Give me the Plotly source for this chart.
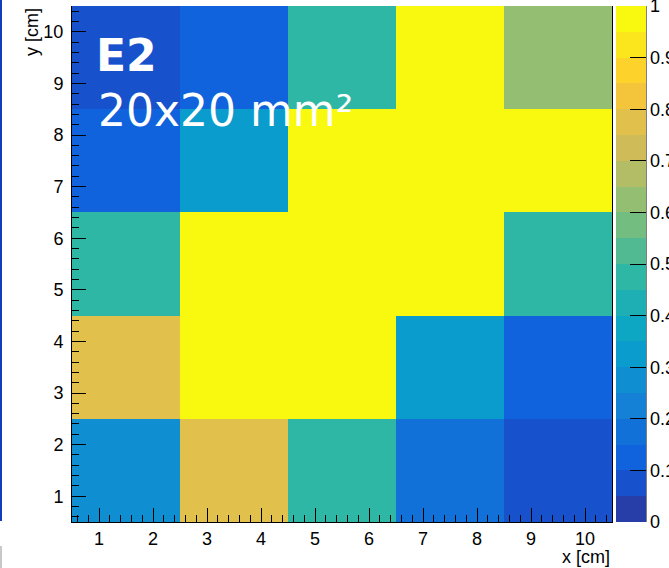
import plotly.graph_objects as go

# Bin centres (cm) of the 5x5 map and the per-bin response
x_centers = [1.5, 3.5, 5.5, 7.5, 9.5]
y_centers = [1.5, 3.5, 5.5, 7.5, 9.5]
z_rows = [
    [0.28, 0.78, 0.48, 0.18, 0.08],   # y = 1.5
    [0.78, 1.00, 1.00, 0.33, 0.13],   # y = 3.5
    [0.48, 1.00, 1.00, 1.00, 0.48],   # y = 5.5
    [0.13, 0.33, 1.00, 1.00, 1.00],   # y = 7.5
    [0.08, 0.13, 0.48, 1.00, 0.63],   # y = 9.5
]
tick_values = [1, 2, 3, 4, 5, 6, 7, 8, 9, 10]
cbar_ticks = [0, 0.1, 0.2, 0.3, 0.4, 0.5, 0.6, 0.7, 0.8, 0.9, 1.0]
cbar_text = ["0", "0.1", "0.2", "0.3", "0.4", "0.5", "0.6", "0.7", "0.8", "0.9", "1"]

# "Bird" gradient stops, sampled into 20 flat contour bands
stops = [0.0, 0.125, 0.25, 0.375, 0.5, 0.625, 0.75, 0.875, 1.0]
red = [0.2082, 0.0592, 0.0780, 0.0232, 0.1802, 0.5301, 0.8186, 0.9956, 0.9764]
green = [0.1664, 0.3599, 0.5041, 0.6419, 0.7178, 0.7492, 0.7328, 0.7862, 0.9832]
blue = [0.5293, 0.8684, 0.8385, 0.7914, 0.6425, 0.4662, 0.3499, 0.1968, 0.0539]


def bird(f):
    for k in range(1, len(stops)):
        if f <= stops[k]:
            t = (f - stops[k - 1]) / (stops[k] - stops[k - 1])
            c = [a[k - 1] + (a[k] - a[k - 1]) * t for a in (red, green, blue)]
            return "rgb(%d,%d,%d)" % tuple(round(255 * v) for v in c)
    return "rgb(249,251,14)"


n_levels = 20
colorscale = []
for i in range(n_levels):
    idx = int((i + 0.99) * 255 / n_levels)
    col = bird(idx / 255)
    colorscale.append([i / n_levels, col])
    colorscale.append([(i + 1) / n_levels, col])

W, H = 669, 568
L, R, T, B = 72, 57, 6, 46
pw, ph = W - L - R, H - T - B


def px_x(p):
    return (p - L) / pw


def px_y(p):
    return (H - B - p) / ph


font_axis = dict(family="Liberation Sans, Arial, sans-serif", size=18, color="black")

fig = go.Figure(
    go.Heatmap(
        x=x_centers,
        y=y_centers,
        z=z_rows,
        zmin=0,
        zmax=1,
        colorscale=colorscale,
        colorbar=dict(
            x=px_x(616), xanchor="left", xpad=0,
            y=0, yanchor="bottom", ypad=0, len=1, lenmode="fraction",
            thickness=30, thicknessmode="pixels",
            outlinewidth=0,
            tickmode="array", tickvals=cbar_ticks, ticktext=cbar_text,
            ticks="inside", ticklen=16, tickcolor="black", tickwidth=1,
            ticklabeloverflow="allow",
            tickfont=font_axis,
        ),
        hoverinfo="skip",
    )
)

axis_common = dict(
    showgrid=False, zeroline=False,
    showline=True, linecolor="black", linewidth=1,
    ticks="inside", ticklen=14, tickcolor="black", tickwidth=1,
    tickmode="array", tickvals=tick_values,
    tickfont=font_axis,
    minor=dict(ticks="inside", ticklen=7, tickcolor="black", dtick=0.2, tick0=0.0, showgrid=False),
)

fig.update_xaxes(range=[0.5, 10.5], **axis_common)
fig.update_yaxes(range=[0.5, 10.5], mirror=True, ticklabelstandoff=4, **axis_common)

annotations = [
    dict(text="x [cm]", xref="paper", yref="paper", x=1.0, y=px_y(557),
         xanchor="right", yanchor="middle", showarrow=False, font=font_axis),
    dict(text="y [cm]", xref="paper", yref="paper", x=px_x(32), y=1.0,
         xanchor="center", yanchor="top", textangle=-90, showarrow=False, font=font_axis),
    dict(text="<b>E2</b>", xref="paper", yref="paper", x=px_x(94), y=px_y(56),
         xanchor="left", yanchor="middle", showarrow=False,
         font=dict(family="DejaVu Sans", size=44, color="white")),
    dict(text="20x20 mm²", xref="paper", yref="paper", x=px_x(96), y=px_y(110),
         xanchor="left", yanchor="middle", showarrow=False,
         font=dict(family="DejaVu Sans", size=44, color="white")),
]

shapes = [
    # palette axis line on the right edge of the colour bar
    dict(type="line", xref="paper", yref="paper", x0=px_x(646), x1=px_x(646),
         y0=0, y1=1, line=dict(color="black", width=1)),
    # edge of the neighbouring pad on the left
    dict(type="rect", xref="paper", yref="paper", x0=px_x(0), x1=px_x(2),
         y0=px_y(521), y1=px_y(0), line=dict(width=0), fillcolor="rgb(20,60,190)"),
    dict(type="rect", xref="paper", yref="paper", x0=px_x(0), x1=px_x(2),
         y0=px_y(568), y1=px_y(546), line=dict(width=0), fillcolor="rgb(200,200,200)"),
]

fig.update_layout(
    width=W, height=H,
    margin=dict(l=L, r=R, t=T, b=B, pad=0, autoexpand=False),
    paper_bgcolor="white", plot_bgcolor="white",
    annotations=annotations, shapes=shapes,
    showlegend=False,
)

fig.write_html("out.html")
